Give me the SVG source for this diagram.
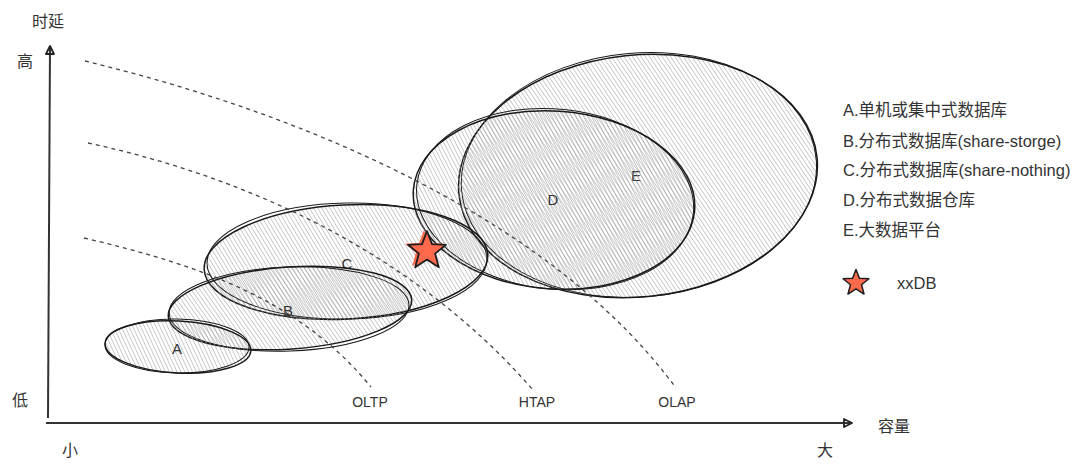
<svg xmlns="http://www.w3.org/2000/svg" width="1080" height="471" viewBox="0 0 1080 471">
<style>
.t{font-family:"Liberation Sans","Noto Sans CJK SC",sans-serif;fill:#333;}
.cjk{font-family:"Noto Sans CJK SC","Liberation Sans",sans-serif;fill:#333;font-size:16px;}
.lab{font-size:15px;text-anchor:middle;}
.leg{font-size:16.5px;}
.ol{fill:none;stroke:#1a1a1a;stroke-width:1.5;}
.ol2{fill:none;stroke:#1a1a1a;stroke-width:1;}
.dash{fill:none;stroke:#444;stroke-width:1.3;stroke-dasharray:4 4;}
.axis{fill:none;stroke:#333;stroke-width:2;}
</style>
<defs>
<pattern id="hatch" patternUnits="userSpaceOnUse" width="3.5" height="4" patternTransform="rotate(-28)">
<line x1="0" y1="0" x2="0" y2="4" stroke="#9a9a9a" stroke-width="1"/>
</pattern>
<pattern id="hatch2" patternUnits="userSpaceOnUse" width="3.5" height="4" patternTransform="rotate(-31) translate(1.7 0)">
<line x1="0" y1="0" x2="0" y2="4" stroke="#9a9a9a" stroke-width="1"/>
</pattern>
<marker id="arr" viewBox="0 0 12 12" refX="10" refY="6" markerWidth="12" markerHeight="12" markerUnits="userSpaceOnUse" orient="auto">
<path d="M2,2 L10,6 L2,10 Z" fill="none" stroke="#222" stroke-width="1.8" stroke-linejoin="round"/>
</marker>
<path id="star" d="M0,-20 L5,-6.9 L19,-6.2 L8.1,2.6 L11.8,16.2 L0,8.5 L-11.8,16.2 L-8.1,2.6 L-19,-6.2 L-5,-6.9 Z"/>
</defs>

<g id="axes">
<line class="axis" x1="48" y1="418" x2="50" y2="46" marker-end="url(#arr)"/>
<line class="axis" x1="46" y1="423" x2="852" y2="423" marker-end="url(#arr)"/>
<text class="cjk" x="48" y="27" text-anchor="middle">时延</text>
<text class="cjk" x="25" y="67" text-anchor="middle">高</text>
<text class="cjk" x="20" y="406" text-anchor="middle">低</text>
<text class="cjk" x="70" y="456" text-anchor="middle">小</text>
<text class="cjk" x="825" y="456" text-anchor="middle">大</text>
<text class="cjk" x="894" y="432" text-anchor="middle">容量</text>
</g>

<g id="E">
<ellipse cx="638" cy="176" rx="180" ry="121" transform="rotate(-6 638 176)" fill="url(#hatch)"/>
<ellipse class="ol" cx="638" cy="176" rx="180" ry="121" transform="rotate(-6 638 176)"/>
<ellipse class="ol2" cx="639" cy="175" rx="178" ry="122" transform="rotate(-5 638 176)"/>
<text class="t lab" x="636" y="181">E</text>
</g>
<g id="D">
<ellipse cx="554" cy="200" rx="141" ry="89" transform="rotate(4 554 200)" fill="url(#hatch2)"/>
<ellipse class="ol" cx="554" cy="200" rx="141" ry="89" transform="rotate(4 554 200)"/>
<ellipse class="ol2" cx="555" cy="199" rx="139" ry="90" transform="rotate(6 554 200)"/>
<text class="t lab" x="553" y="205">D</text>
</g>
<g id="C">
<ellipse cx="346" cy="262" rx="142" ry="57" transform="rotate(-3 346 262)" fill="url(#hatch)"/>
<ellipse class="ol" cx="346" cy="262" rx="142" ry="57" transform="rotate(-3 346 262)"/>
<ellipse class="ol2" cx="347" cy="261" rx="140" ry="58" transform="rotate(-1 346 262)"/>
<text class="t lab" x="347" y="269">C</text>
</g>
<g id="B">
<ellipse cx="290" cy="308" rx="122" ry="41" transform="rotate(-4 290 308)" fill="url(#hatch2)"/>
<ellipse class="ol" cx="290" cy="308" rx="122" ry="41" transform="rotate(-4 290 308)"/>
<ellipse class="ol2" cx="289" cy="309" rx="120" ry="42" transform="rotate(-2 290 308)"/>
<text class="t lab" x="288" y="316">B</text>
</g>
<g id="A">
<ellipse cx="178" cy="347" rx="73" ry="26" transform="rotate(3 178 347)" fill="url(#hatch)"/>
<ellipse class="ol" cx="178" cy="347" rx="73" ry="26" transform="rotate(3 178 347)"/>
<ellipse class="ol2" cx="177" cy="346" rx="72" ry="27" transform="rotate(1 178 347)"/>
<text class="t lab" x="177" y="354">A</text>
</g>

<g id="connectors">
<path class="dash" d="M85,61 C330,120 560,230 676,388"/>
<path class="dash" d="M88,143 C260,180 420,260 533,390"/>
<path class="dash" d="M84,238 C200,265 300,300 371,387"/>
</g>
<g id="curve-labels">
<text class="t" x="370" y="407" font-size="14" text-anchor="middle">OLTP</text>
<text class="t" x="537" y="407" font-size="14" text-anchor="middle">HTAP</text>
<text class="t" x="677" y="407" font-size="14" text-anchor="middle">OLAP</text>
</g>

<g id="xxDB-star">
<use href="#star" transform="translate(424 250)" fill="#ff6a4d" stroke="none"/>
<use href="#star" transform="translate(427 251)" fill="#ff6a4d" stroke="#1e1e1e" stroke-width="1.8" stroke-linejoin="round"/>
</g>

<g id="legend">
<text class="t leg" x="843" y="116">A.单机或集中式数据库</text>
<text class="t leg" x="843" y="147">B.分布式数据库(share-storge)</text>
<text class="t leg" x="843" y="176">C.分布式数据库(share-nothing)</text>
<text class="t leg" x="843" y="206">D.分布式数据仓库</text>
<text class="t leg" x="843" y="236">E.大数据平台</text>
<use href="#star" transform="translate(856 283) scale(0.68)" fill="#ff6a4d" stroke="#1e1e1e" stroke-width="2.2" stroke-linejoin="round"/>
<text class="t leg" x="897" y="289">xxDB</text>
</g>
</svg>
